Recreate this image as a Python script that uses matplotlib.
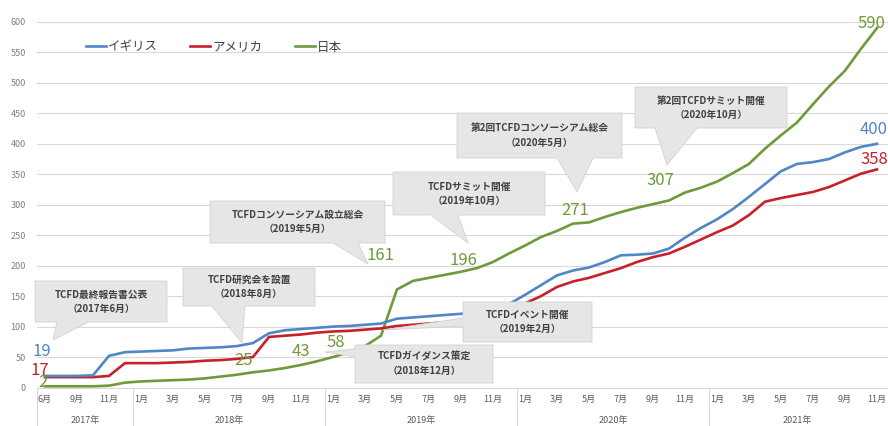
import matplotlib
matplotlib.use("Agg")
import matplotlib.pyplot as plt
from matplotlib.patches import Polygon

plt.rcParams['font.family'] = ['Noto Sans CJK JP', 'DejaVu Sans']

# ---------------- data ----------------
months_2017 = ["6月", "8月", "9月", "10月", "11月", "12月"]
months_2018 = ["1月", "2月", "3月", "4月", "5月", "6月", "7月", "8月", "9月", "10月", "11月", "12月"]
months_2019 = ["1月", "2月", "3月", "4月", "5月", "6月", "7月", "8月", "9月", "10月", "11月", "12月"]
months_2020 = ["1月", "2月", "3月", "4月", "5月", "6月", "7月", "8月", "9月", "10月", "11月", "12月"]
months_2021 = ["1月", "2月", "3月", "4月", "5月", "6月", "7月", "8月", "9月", "10月", "11月"]
years = ["2017年", "2018年", "2019年", "2020年", "2021年"]
year_months = [months_2017, months_2018, months_2019, months_2020, months_2021]

series_names = ["イギリス", "アメリカ", "日本"]

uk = [19, 19, 19, 20, 52, 58,
      59, 60, 61, 64, 65, 66, 68, 73, 89, 94, 96, 98,
      100, 101, 103, 105, 113, 115, 117, 119, 121, 123, 128, 137,
      152, 168, 184, 192, 197, 206, 217, 218, 220, 228, 246, 262,
      276, 293, 313, 334, 355, 367, 370, 375, 386, 395, 400]
us = [17, 17, 17, 17, 19, 40,
      40, 40, 41, 42, 44, 45, 47, 50, 83, 85, 87, 90,
      92, 93, 95, 97, 101, 103, 105, 107, 111, 114, 120, 128,
      138, 150, 165, 174, 180, 188, 196, 206, 214, 220, 231, 243,
      255, 266, 283, 305, 311, 316, 321, 329, 340, 351, 358]
jp = [2, 2, 2, 2, 3, 8,
      10, 11, 12, 13, 15, 18, 21, 25, 28, 32, 37, 43,
      50, 58, 68, 85, 161, 175, 180, 185, 190, 196, 206, 220,
      233, 247, 257, 269, 271, 280, 288, 295, 301, 307, 320, 328,
      338, 352, 367, 392, 414, 435, 465, 494, 520, 556, 590]

# data labels: indices of labelled points per series
labels_uk = [0, 52]
labels_us = [0, 52]
labels_jp = [0, 13, 17, 19, 22, 27, 34, 39, 52]

# callout texts
callout_texts = [
    "TCFD最終報告書公表\n（2017年6月）",
    "TCFD研究会を設置\n（2018年8月）",
    "TCFDコンソーシアム設立総会\n（2019年5月）",
    "TCFDサミット開催\n（2019年10月）",
    "第2回TCFDコンソーシアム総会\n（2020年5月）",
    "第2回TCFDサミット開催\n（2020年10月）",
    "TCFDイベント開催\n（2019年2月）",
    "TCFDガイダンス策定\n（2018年12月）",
]

# ---------------- styles ----------------
C_UK = "#4f86c6"
C_US = "#c8202a"
C_JP = "#6e9a3a"
GRID = "#d9d9d9"
TXT = "#595959"

W, H = 888, 426
fig = plt.figure(figsize=(W / 100, H / 100), dpi=100)
ax = fig.add_axes([37 / W, (H - 387.5) / H, (888 - 37) / W, (387.5 - 22) / H])

x = list(range(len(jp)))
ax.plot(x, jp, color=C_JP, lw=1.9, label=series_names[2], zorder=3)
ax.plot(x, us, color=C_US, lw=1.9, label=series_names[1], zorder=4)
ax.plot(x, uk, color=C_UK, lw=1.9, label=series_names[0], zorder=5)

ax.set_xlim(-0.5, 52.69)
ax.set_ylim(0, 600)
ax.set_yticks(range(0, 601, 50))
ax.yaxis.grid(True, color=GRID, lw=0.8)
ax.set_axisbelow(True)
ax.tick_params(axis='y', length=0, labelsize=6.5, labelcolor="#7f7f7f", pad=8)
ax.set_xticks([])
for s in ["top", "right", "left"]:
    ax.spines[s].set_visible(False)
ax.spines["bottom"].set_color(GRID)

# x axis: month labels, year labels, separators
xt = ax.get_xaxis_transform()
start = 0
for yname, mlist in zip(years, year_months):
    for k, m in enumerate(mlist):
        idx = start + k
        if idx % 2 == 0:
            ax.text(idx, -0.034, m, transform=xt, ha='center', va='center',
                    fontsize=6.5, color=TXT, clip_on=False)
    end = start + len(mlist) - 1
    ax.text((start + end) / 2, -0.09, yname, transform=xt, ha='center', va='center',
            fontsize=6.5, color=TXT, clip_on=False)
    ax.plot([start - 0.5, start - 0.5], [0, -0.11], transform=xt, color=GRID,
            lw=0.8, clip_on=False)
    start = end + 1

# data labels
def put_labels(vals, idxs, color, offsets):
    for i, off in zip(idxs, offsets):
        ax.annotate(str(vals[i]), xy=(i, vals[i]), xytext=off, textcoords='offset pixels',
                    ha='center', va='center', fontsize=12, color=color,
                    annotation_clip=False, zorder=6)

put_labels(jp, labels_jp, C_JP, [(-2, 4), (-9, 12), (-16, 10), (-13, 10), (-16, 34),
                                 (-14, 8), (-14, 12), (-9, 20), (-5, 5)])
put_labels(us, labels_us, C_US, [(-5, 7), (-3, 10)])
put_labels(uk, labels_uk, C_UK, [(-3, 24), (-3, 14)])

# legend
ax.legend(handles=[ax.lines[2], ax.lines[1], ax.lines[0]], loc='center left',
          bbox_to_anchor=(86 / W, 1 - 47 / H), bbox_transform=fig.transFigure,
          ncol=3, frameon=False, fontsize=9, handlelength=1.6, handletextpad=0.15,
          columnspacing=2.6, borderaxespad=0, borderpad=0, labelcolor="#404040")

# overlay for callouts (pixel coordinates, y down)
ov = fig.add_axes([0, 0, 1, 1])
ov.set_xlim(0, W)
ov.set_ylim(H, 0)
ov.axis('off')
ov.set_zorder(ax.get_zorder() + 1)

# (box left, top, right, bottom), pointer: ('b', base_x0, base_x1, tip) or ('l', base_y0, base_y1, tip)
callout_geom = [
    ((35, 281, 167, 322), ('b', 57, 88, (53, 340))),
    ((183, 268, 315, 306), ('b', 212, 245, (242, 343))),
    ((210, 201, 385, 243), ('b', 333, 358, (368, 264))),
    ((393, 172, 545, 215), ('b', 431, 458, (468, 243))),
    ((457, 113, 622, 158), ('b', 557, 593, (577, 192))),
    ((635, 87, 787, 128), ('b', 655, 697, (667, 165))),
    ((463, 302, 592, 342), ('l', 318, 326, (383, 330))),
    ((355, 345, 493, 383), ('l', 349, 357, (325, 352))),
]

for text, (box, ptr) in zip(callout_texts, callout_geom):
    l, t, r, b = box
    if ptr[0] == 'b':
        _, b0, b1, tip = ptr
        pts = [(l, t), (r, t), (r, b), (b1, b), tip, (b0, b), (l, b)]
    else:
        _, y0, y1, tip = ptr
        pts = [(l, t), (r, t), (r, b), (l, b), (l, y1), tip, (l, y0)]
    ov.add_patch(Polygon(pts, closed=True, facecolor="#e6e6e6", edgecolor="#d2d2d2",
                         lw=0.6, zorder=2))
    ov.text((l + r) / 2, (t + b) / 2, text, ha='center', va='center', fontsize=7,
            fontweight='bold', color="#404040", linespacing=1.5, zorder=3)

fig.savefig("out.png", dpi=100)
